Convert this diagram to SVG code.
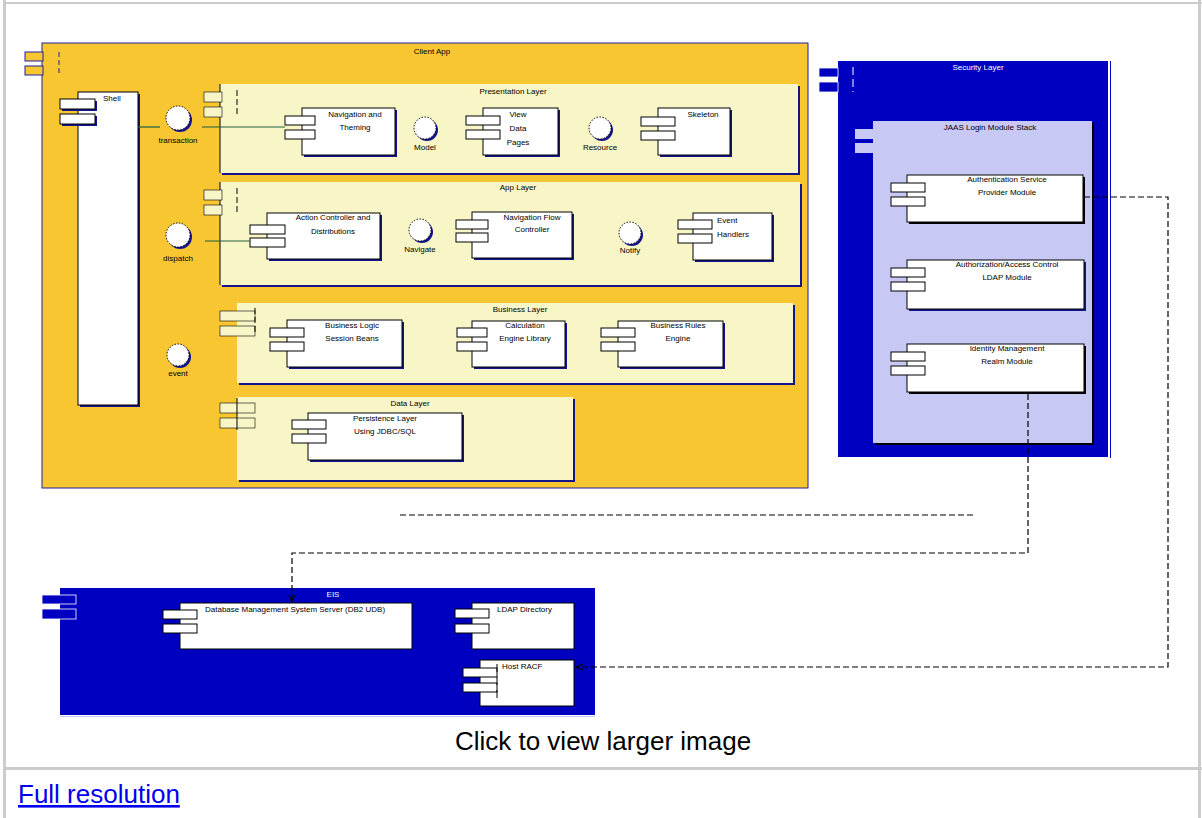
<svg xmlns="http://www.w3.org/2000/svg" width="1202" height="818" viewBox="0 0 1202 818">
<defs>
<style>
.t{font-family:"Liberation Sans",Arial,sans-serif;font-size:8px;fill:#000}
.tc{text-anchor:middle}
.tw{fill:#fff}
.comp{fill:#fff;stroke:#000;stroke-width:1}
.sh{fill:#14148c}
.tab{fill:#fff;stroke:#000;stroke-width:1}
.layer{fill:#f8f6c6}
.edge{stroke:#000;stroke-width:1;fill:none}
.ifc{fill:#fff;stroke:#000;stroke-width:1;stroke-dasharray:1.5 1.5}
.ifs{fill:#14148c}
.wire{stroke:#1f5f3f;stroke-width:1.2;fill:none}
.dep{stroke:#000;stroke-width:1.2;fill:none;stroke-dasharray:6 3}
.frame{stroke:#cccccc;fill:none}
</style>
<marker id="arr" viewBox="0 0 10 10" refX="9" refY="5" markerWidth="8" markerHeight="8" orient="auto" markerUnits="userSpaceOnUse">
<path d="M0,1 L9,5 L0,9" fill="none" stroke="#000" stroke-width="1.3"/>
</marker>
</defs>
<rect x="0" y="0" width="1202" height="818" fill="#fff"/>
<g id="page-frame">
<line class="frame" x1="4.5" y1="0" x2="4.5" y2="818" stroke-width="3"/>
<line class="frame" x1="1199.5" y1="0" x2="1199.5" y2="818" stroke-width="3"/>
<line class="frame" x1="3" y1="3" x2="1202" y2="3" stroke-width="2"/>
<line class="frame" x1="3" y1="768.5" x2="1202" y2="768.5" stroke-width="3"/>
</g>

<g id="client-app">
<rect x="42" y="43" width="766" height="445" fill="#f7c631" stroke="#2020a0" stroke-width="1"/>
<rect x="25" y="52" width="18" height="9" fill="#f7c631" stroke="#2020a0"/>
<rect x="25" y="66" width="18" height="9" fill="#f7c631" stroke="#2020a0"/>
<line x1="59" y1="52" x2="59" y2="75" stroke="#2020a0" stroke-dasharray="5 3"/>
<text class="t tc" x="432" y="54">Client App</text>
</g>

<g id="shell">
<rect class="sh" x="80" y="94" width="60" height="313"/>
<rect class="comp" x="78" y="92" width="60" height="313"/>
<rect class="sh" x="62" y="101" width="35" height="10"/>
<rect class="tab" x="60" y="99" width="35" height="10"/>
<rect class="sh" x="62" y="116" width="35" height="10"/>
<rect class="tab" x="60" y="114" width="35" height="10"/>
<text class="t" x="103" y="101">Shell</text>
</g>

<g id="if-transaction">
<circle class="ifs" cx="180" cy="120" r="12"/>
<circle class="ifc" cx="178" cy="118" r="12"/>
<text class="t tc" x="178" y="143">transaction</text>
</g>
<g id="if-dispatch">
<circle class="ifs" cx="180" cy="237" r="12"/>
<circle class="ifc" cx="178" cy="235" r="12"/>
<text class="t tc" x="178" y="261">dispatch</text>
</g>
<g id="if-event">
<circle class="ifs" cx="180" cy="357" r="11"/>
<circle class="ifc" cx="178" cy="355" r="11"/>
<text class="t tc" x="178" y="376">event</text>
</g>

<g id="presentation-layer">
<rect class="sh" x="222" y="86" width="578" height="89"/>
<rect class="layer" x="220" y="84" width="578" height="89"/>
<line class="edge" x1="220" y1="84" x2="220" y2="173"/>
<rect class="layer" x="204" y="92" width="18" height="10" stroke="#000" stroke-width="0.6"/>
<rect class="layer" x="204" y="107" width="18" height="10" stroke="#000" stroke-width="0.6"/>
<line x1="237" y1="90" x2="237" y2="116" stroke="#000" stroke-dasharray="6 3"/>
<text class="t tc" x="513" y="94">Presentation Layer</text>
</g>
<g id="navigation-theming">
<rect class="sh" x="304" y="110" width="93" height="47"/>
<rect class="comp" x="302" y="108" width="93" height="47"/>
<rect class="tab" x="285" y="116" width="30" height="9"/>
<rect class="tab" x="285" y="130" width="30" height="9"/>
<text class="t tc" x="355" y="117">Navigation and</text>
<text class="t tc" x="355" y="130">Theming</text>
</g>
<g id="if-model">
<circle class="ifs" cx="427" cy="130" r="11"/>
<circle class="ifc" cx="425" cy="128" r="11"/>
<text class="t tc" x="425" y="150">Model</text>
</g>
<g id="view-data-pages">
<rect class="sh" x="485" y="110" width="75" height="47"/>
<rect class="comp" x="483" y="108" width="75" height="47"/>
<rect class="tab" x="466" y="116" width="34" height="9"/>
<rect class="tab" x="466" y="130" width="34" height="9"/>
<text class="t tc" x="518" y="117">View</text>
<text class="t tc" x="518" y="131">Data</text>
<text class="t tc" x="518" y="145">Pages</text>
</g>
<g id="if-resource">
<circle class="ifs" cx="602" cy="130" r="11"/>
<circle class="ifc" cx="600" cy="128" r="11"/>
<text class="t tc" x="600" y="150">Resource</text>
</g>
<g id="skeleton">
<rect class="sh" x="660" y="110" width="72" height="47"/>
<rect class="comp" x="658" y="108" width="72" height="47"/>
<rect class="tab" x="641" y="117" width="34" height="9"/>
<rect class="tab" x="641" y="131" width="34" height="9"/>
<text class="t tc" x="703" y="117">Skeleton</text>
</g>

<g id="app-layer">
<rect class="sh" x="222" y="184" width="580" height="103"/>
<rect class="layer" x="220" y="182" width="580" height="103"/>
<line class="edge" x1="220" y1="182" x2="220" y2="285"/>
<rect class="layer" x="204" y="190" width="18" height="10" stroke="#000" stroke-width="0.6"/>
<rect class="layer" x="204" y="205" width="18" height="10" stroke="#000" stroke-width="0.6"/>
<line x1="237" y1="188" x2="237" y2="214" stroke="#000" stroke-dasharray="6 3"/>
<text class="t tc" x="518" y="190">App Layer</text>
</g>
<g id="action-controller">
<rect class="sh" x="269" y="215" width="113" height="46"/>
<rect class="comp" x="267" y="213" width="113" height="46"/>
<rect class="tab" x="250" y="225" width="35" height="9"/>
<rect class="tab" x="250" y="238" width="35" height="9"/>
<text class="t tc" x="333" y="220">Action Controller and</text>
<text class="t tc" x="333" y="234">Distributions</text>
</g>
<g id="if-navigate">
<circle class="ifs" cx="422" cy="232" r="11"/>
<circle class="ifc" cx="420" cy="230" r="11"/>
<text class="t tc" x="420" y="252">Navigate</text>
</g>
<g id="navigation-flow">
<rect class="sh" x="474" y="214" width="100" height="46"/>
<rect class="comp" x="472" y="212" width="100" height="46"/>
<rect class="tab" x="456" y="220" width="32" height="9"/>
<rect class="tab" x="456" y="233" width="32" height="9"/>
<text class="t tc" x="532" y="220">Navigation Flow</text>
<text class="t tc" x="532" y="232">Controller</text>
</g>
<g id="if-notify">
<circle class="ifs" cx="632" cy="235" r="11"/>
<circle class="ifc" cx="630" cy="233" r="11"/>
<text class="t tc" x="630" y="253">Notify</text>
</g>
<g id="event-handlers">
<rect class="sh" x="695" y="215" width="79" height="47"/>
<rect class="comp" x="693" y="213" width="79" height="47"/>
<rect class="tab" x="678" y="220" width="34" height="9"/>
<rect class="tab" x="678" y="234" width="34" height="9"/>
<text class="t" x="717" y="223">Event</text>
<text class="t" x="717" y="237">Handlers</text>
</g>

<g id="business-layer">
<rect class="sh" x="239" y="305" width="556" height="80"/>
<rect class="layer" x="237" y="303" width="556" height="80"/>
<rect class="layer" x="220" y="311" width="35" height="10" stroke="#000" stroke-width="0.6"/>
<rect class="layer" x="220" y="326" width="35" height="10" stroke="#000" stroke-width="0.6"/>
<line x1="255" y1="308" x2="255" y2="334" stroke="#000" stroke-dasharray="6 3"/>
<text class="t tc" x="520" y="312">Business Layer</text>
</g>
<g id="business-logic">
<rect class="sh" x="289" y="322" width="115" height="47"/>
<rect class="comp" x="287" y="320" width="115" height="47"/>
<rect class="tab" x="270" y="328" width="34" height="9"/>
<rect class="tab" x="270" y="342" width="34" height="9"/>
<text class="t tc" x="352" y="328">Business Logic</text>
<text class="t tc" x="352" y="341">Session Beans</text>
</g>
<g id="calculation">
<rect class="sh" x="474" y="323" width="93" height="46"/>
<rect class="comp" x="472" y="321" width="93" height="46"/>
<rect class="tab" x="457" y="328" width="30" height="9"/>
<rect class="tab" x="457" y="342" width="30" height="9"/>
<text class="t tc" x="525" y="328">Calculation</text>
<text class="t tc" x="525" y="341">Engine Library</text>
</g>
<g id="business-rules">
<rect class="sh" x="620" y="323" width="105" height="46"/>
<rect class="comp" x="618" y="321" width="105" height="46"/>
<rect class="tab" x="601" y="328" width="34" height="9"/>
<rect class="tab" x="601" y="342" width="34" height="9"/>
<text class="t tc" x="678" y="328">Business Rules</text>
<text class="t tc" x="678" y="341">Engine</text>
</g>

<g id="data-layer">
<rect class="sh" x="239" y="399" width="336" height="83"/>
<rect class="layer" x="237" y="397" width="336" height="83"/>
<rect class="layer" x="220" y="403" width="35" height="10" stroke="#000" stroke-width="0.6"/>
<rect class="layer" x="220" y="418" width="35" height="10" stroke="#000" stroke-width="0.6"/>
<line x1="237" y1="398" x2="237" y2="430" stroke="#000"/>
<text class="t tc" x="410" y="406">Data Layer</text>
</g>
<g id="persistence">
<rect class="sh" x="310" y="415" width="154" height="47"/>
<rect class="comp" x="308" y="413" width="154" height="47"/>
<rect class="tab" x="292" y="420" width="34" height="9"/>
<rect class="tab" x="292" y="434" width="34" height="9"/>
<text class="t tc" x="385" y="421">Persistence Layer</text>
<text class="t tc" x="385" y="434">Using JDBC/SQL</text>
</g>

<g id="security-layer">
<rect x="838" y="61" width="270" height="396" fill="#0000c0"/>
<line x1="1110.5" y1="61" x2="1110.5" y2="458" stroke="#0000c0"/>
<rect x="819" y="68" width="19" height="9" fill="#0000c0" stroke="#fff" stroke-width="0.8"/>
<rect x="819" y="82" width="19" height="10" fill="#0000c0" stroke="#fff" stroke-width="0.8"/>
<line x1="853" y1="67" x2="853" y2="92" stroke="#fff" stroke-dasharray="8 4"/>
<text class="t tc tw" x="978" y="70">Security Layer</text>
</g>
<g id="jaas-stack">
<rect x="875" y="123" width="219" height="322" fill="#000"/>
<rect x="873" y="121" width="219" height="322" fill="#c8c8f4"/>
<rect x="855" y="129" width="18" height="10" fill="#c8c8f4"/>
<rect x="855" y="143" width="18" height="10" fill="#c8c8f4"/>
<text class="t tc" x="990" y="130">JAAS Login Module Stack</text>
</g>
<g id="authentication">
<rect x="909" y="177" width="176" height="47" fill="#000"/>
<rect class="comp" x="907" y="175" width="176" height="47"/>
<rect class="tab" x="891" y="183" width="34" height="9"/>
<rect class="tab" x="891" y="197" width="34" height="9"/>
<text class="t tc" x="1007" y="182">Authentication Service</text>
<text class="t tc" x="1007" y="195">Provider Module</text>
</g>
<g id="authorization">
<rect x="909" y="262" width="177" height="49" fill="#14148c"/>
<rect class="comp" x="907" y="260" width="177" height="49"/>
<rect class="tab" x="891" y="268" width="34" height="9"/>
<rect class="tab" x="891" y="282" width="34" height="9"/>
<text class="t tc" x="1007" y="267">Authorization/Access Control</text>
<text class="t tc" x="1007" y="280">LDAP Module</text>
</g>
<g id="identity">
<rect x="909" y="346" width="177" height="48" fill="#000"/>
<rect class="comp" x="907" y="344" width="177" height="48"/>
<rect class="tab" x="891" y="352" width="34" height="9"/>
<rect class="tab" x="891" y="366" width="34" height="9"/>
<text class="t tc" x="1007" y="351">Identity Management</text>
<text class="t tc" x="1007" y="364">Realm Module</text>
</g>

<g id="eis">
<rect x="60" y="588" width="535" height="127" fill="#0000c0"/>
<line x1="60" y1="716.5" x2="595" y2="716.5" stroke="#c8c8f4"/>
<rect x="42" y="595" width="34" height="9" fill="#0000c0" stroke="#fff" stroke-width="0.8"/>
<rect x="42" y="609" width="34" height="10" fill="#0000c0" stroke="#fff" stroke-width="0.8"/>
<text class="t tc tw" x="333" y="597">EIS</text>
</g>
<g id="dbms">
<rect class="comp" x="180" y="603" width="232" height="46"/>
<rect class="tab" x="163" y="610" width="34" height="9"/>
<rect class="tab" x="163" y="624" width="34" height="9"/>
<text class="t" x="205" y="612">Database Management System Server (DB2 UDB)</text>
</g>
<g id="ldap-directory">
<rect class="comp" x="472" y="603" width="102" height="46"/>
<rect class="tab" x="455" y="609" width="34" height="9"/>
<rect class="tab" x="455" y="624" width="34" height="9"/>
<text class="t" x="497" y="612">LDAP Directory</text>
</g>
<g id="host-racf">
<rect class="comp" x="480" y="660" width="94" height="46"/>
<rect class="tab" x="463" y="668" width="34" height="9"/>
<rect class="tab" x="463" y="683" width="34" height="9"/>
<line x1="497" y1="664" x2="497" y2="698" stroke="#000" stroke-dasharray="8 5"/>
<text class="t" x="502" y="669">Host RACF</text>
</g>

<g id="connectors">
<line class="wire" x1="138" y1="127" x2="160" y2="127"/>
<line class="wire" x1="202" y1="127" x2="285" y2="127"/>
<line class="wire" x1="205" y1="241" x2="250" y2="241"/>
<polyline class="dep" points="1084,197 1168,197 1168,667 576,667" marker-end="url(#arr)"/>
<polyline class="dep" points="1028,394 1028,553 292,553 292,602" marker-end="url(#arr)"/>
<line class="dep" x1="400" y1="515" x2="975" y2="515"/>
</g>

<text x="603" y="750" font-family="Liberation Sans, Arial, sans-serif" font-size="26" text-anchor="middle" fill="#000">Click to view larger image</text>
<text x="18" y="803" font-family="Liberation Sans, Arial, sans-serif" font-size="26" fill="#0000ee" text-decoration="underline">Full resolution</text>
</svg>
